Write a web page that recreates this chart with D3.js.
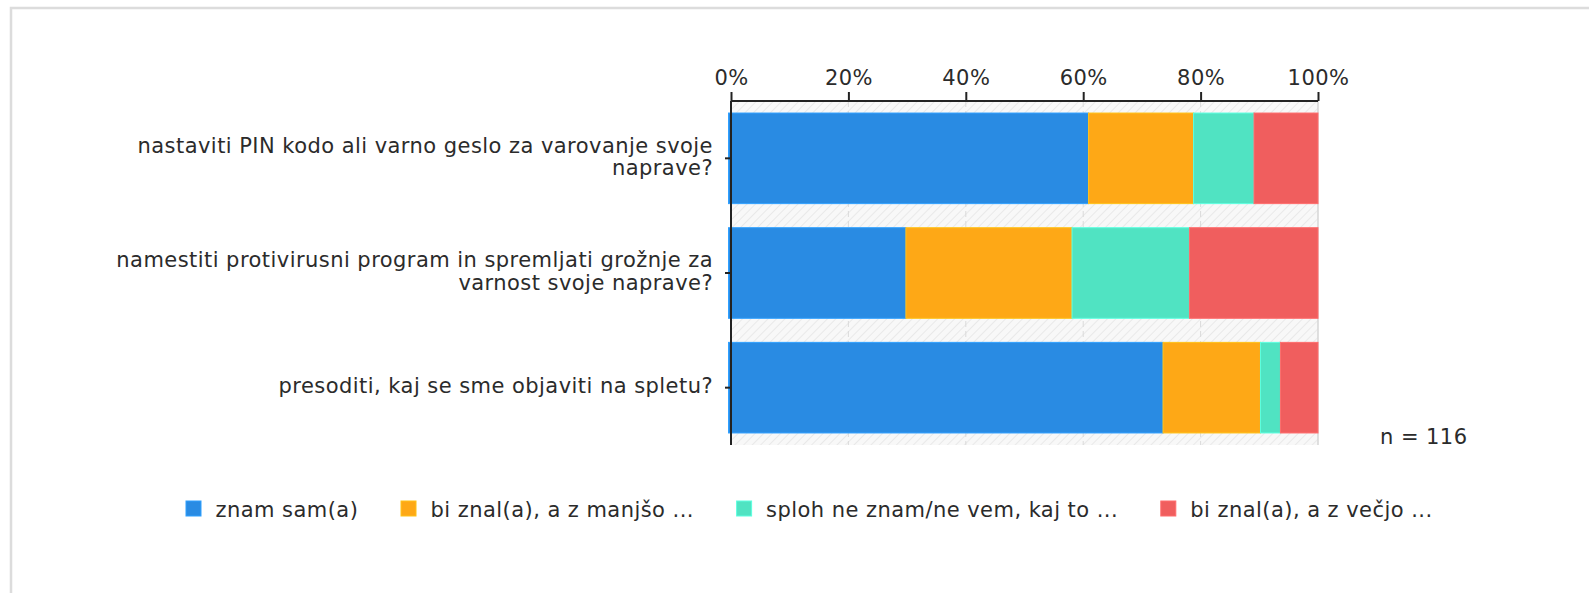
<!DOCTYPE html>
<html>
<head>
<meta charset="utf-8">
<script src="https://cdn.jsdelivr.net/npm/d3@7"></script>
<style>
  html, body { margin: 0; padding: 0; background: #fff; }
  svg { display: block; }
  text { font-family: "DejaVu Sans", Verdana, sans-serif; fill: #2b2b2b; letter-spacing: 0.45px; }
</style>
</head>
<body>
<svg id="chart" width="1589" height="593"></svg>
<script>
const categories = [
  "nastaviti PIN kodo ali varno geslo za varovanje svoje naprave?",
  "namestiti protivirusni program in spremljati grožnje za varnost svoje naprave?",
  "presoditi, kaj se sme objaviti na spletu?"
];
const seriesNames = ["znam sam(a)", "bi znal(a), a z manjšo ...", "sploh ne znam/ne vem, kaj to ...", "bi znal(a), a z večjo ..."];
const znamSam = [60.9, 29.8, 73.6];
const manjso = [17.9, 28.3, 16.6];
const neVem = [10.3, 20.0, 3.4];
const vecjo = [10.9, 21.9, 6.4];
const seriesColors = ["#298be3", "#fea816", "#50e3c2", "#f05e5e"];
const tickValues = [0, 20, 40, 60, 80, 100];
const nLabel = "n = 116";

const seriesValues = [znamSam, manjso, neVem, vecjo];
const rows = categories.map((c, i) => {
  const r = { cat: c };
  seriesNames.forEach((s, j) => r[s] = seriesValues[j][i]);
  return r;
});

const svg = d3.select("#chart");
const FS = 21;

// outer frame
svg.append("rect").attr("x", 11).attr("y", 8).attr("width", 1640).attr("height", 700)
  .attr("fill", "none").attr("stroke", "#dcdcdc").attr("stroke-width", 2.5);

const x = d3.scaleLinear().domain([0, 100]).range([731, 1318]);
const y = d3.scaleBand().domain(categories).range([101, 445]).paddingInner(0.21).paddingOuter(0.105);

// hatch pattern
const defs = svg.append("defs");
const pat = defs.append("pattern").attr("id", "hatch").attr("patternUnits", "userSpaceOnUse")
  .attr("width", 6).attr("height", 6).attr("patternTransform", "rotate(45)");
pat.append("rect").attr("width", 6).attr("height", 6).attr("fill", "#f8f8f8");
pat.append("line").attr("x1", 0).attr("y1", 0).attr("x2", 0).attr("y2", 6)
  .attr("stroke", "#e9e9e9").attr("stroke-width", 2);

svg.append("rect").attr("x", x(0)).attr("y", y.range()[0])
  .attr("width", x(100) - x(0)).attr("height", y.range()[1] - y.range()[0])
  .attr("fill", "url(#hatch)");

// gridlines
svg.append("g").selectAll("line").data(tickValues.filter(t => t > 0)).join("line")
  .attr("x1", d => x(d)).attr("x2", d => x(d))
  .attr("y1", y.range()[0]).attr("y2", y.range()[1])
  .attr("stroke", d => d === 100 ? "#d6d6d6" : "#dadada")
  .attr("stroke-width", d => d === 100 ? 1.5 : 1)
  .attr("stroke-dasharray", d => d === 100 ? null : "6,4");

// bars
const stack = d3.stack().keys(seriesNames);
const stacked = stack(rows);
svg.append("g").selectAll("g").data(stacked).join("g")
  .attr("fill", (d, i) => seriesColors[i])
  .attr("stroke", (d, i) => d3.color(seriesColors[i]).brighter(0.4))
  .attr("stroke-width", 1)
  .selectAll("rect").data(d => d).join("rect")
  .attr("x", d => x(d[0]) - (d[0] === 0 ? 2.5 : 0))
  .attr("y", d => y(d.data.cat))
  .attr("width", d => x(d[1]) - x(d[0]) + (d[0] === 0 ? 2.5 : 0))
  .attr("height", y.bandwidth());

// top axis
const xAxis = d3.axisTop(x).tickValues(tickValues).tickFormat(d => d + "%").tickSize(9).tickPadding(7);
const gx = svg.append("g").attr("transform", `translate(0,${y.range()[0]})`).call(xAxis);
gx.select(".domain").attr("stroke", "#222").attr("stroke-width", 2)
  .attr("d", `M${x(0)},0H${x(100)}`);
gx.selectAll(".tick line").attr("stroke", "#222").attr("stroke-width", 2);
gx.selectAll(".tick text").attr("font-size", FS).attr("fill", "#2b2b2b")
  .style("font-family", '"DejaVu Sans", Verdana, sans-serif');

// left axis
const yAxis = d3.axisLeft(y).tickSize(6).tickPadding(12).tickFormat(d => d);
const gy = svg.append("g").attr("transform", `translate(${x(0)},0)`).call(yAxis);
gy.select(".domain").attr("stroke", "#222").attr("stroke-width", 2)
  .attr("d", `M0,${y.range()[0]}V${y.range()[1]}`);
gy.selectAll(".tick line").attr("stroke", "#222").attr("stroke-width", 2);
gy.selectAll(".tick text").attr("font-size", FS).attr("fill", "#2b2b2b")
  .style("font-family", '"DejaVu Sans", Verdana, sans-serif')
  .each(function(d) {
    const t = d3.select(this);
    const words = d.split(" ");
    const maxW = 605;
    const lines = [];
    let cur = [];
    t.text(null);
    const probe = t.append("tspan");
    for (const w of words) {
      cur.push(w);
      probe.text(cur.join(" "));
      if (probe.node().getComputedTextLength() > maxW && cur.length > 1) {
        cur.pop();
        lines.push(cur.join(" "));
        cur = [w];
      }
    }
    lines.push(cur.join(" "));
    probe.remove();
    t.attr("dy", null);
    const lh = 22.5;
    const startDy = -(lines.length - 1) * lh / 2;
    lines.forEach((ln, i) => {
      t.append("tspan").attr("x", t.attr("x")).attr("dy", i === 0 ? (startDy + 0.27 * FS) : lh).text(ln);
    });
  });

// n label
svg.append("text").attr("x", 1380).attr("y", 444).attr("font-size", FS).text(nLabel);

// legend
const lg = svg.append("g");
let lx = 186;
seriesNames.forEach((s, i) => {
  lg.append("rect").attr("x", lx).attr("y", 501).attr("width", 15).attr("height", 15)
    .attr("fill", seriesColors[i]).attr("stroke", d3.color(seriesColors[i]).brighter(0.4)).attr("stroke-width", 1);
  const tx = lg.append("text").attr("x", lx + 29.5).attr("y", 516.5).attr("font-size", FS).text(s);
  lx += 29.5 + tx.node().getComputedTextLength() + 42.7;
});
</script>
</body>
</html>
